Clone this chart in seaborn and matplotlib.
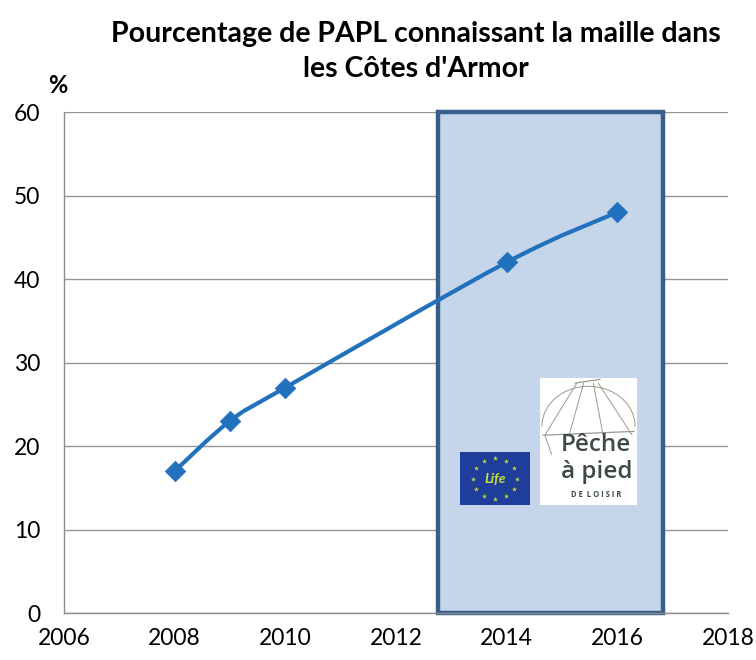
import numpy as np
import matplotlib
matplotlib.use("Agg")
import matplotlib.pyplot as plt
from matplotlib.path import Path
from matplotlib.patches import PathPatch, Rectangle
import seaborn as sns
import pandas as pd

# Survey years and share of recreational shore fishers (PAPL) who know the minimum size
years = [2008, 2009, 2010, 2014, 2016]
pct = [17, 23, 27, 42, 48]

x_ticks = [2006, 2008, 2010, 2012, 2014, 2016, 2018]
y_ticks = [0, 10, 20, 30, 40, 50, 60]

# Period of the LIFE project, highlighted as a shaded band
life_start, life_end = 2012.75, 2016.83

title = "Pourcentage de PAPL connaissant la maille dans\nles Côtes d'Armor"

sns.set_theme(style="white")
plt.rcParams["font.family"] = ["Lato", "DejaVu Sans"]
plt.rcParams["text.color"] = "black"

line_color = "#2271BD"
df = pd.DataFrame({"annee": years, "pct": pct})

fig = plt.figure(figsize=(7.56, 6.6), dpi=100)
ax = fig.add_axes([0.0847, 0.0712, 0.8783, 0.7591])

# Shaded LIFE period
ax.add_patch(Rectangle((life_start, 0), life_end - life_start, 60,
                       facecolor="#C5D5EA", edgecolor="#3A5E8C", linewidth=3.2,
                       zorder=2, clip_on=False))


def smooth_path(xs, ys, tension=1 / 6):
    """Cubic Bezier path through the points (Catmull-Rom style control points)."""
    pts = np.column_stack([xs, ys]).astype(float)
    verts = [tuple(pts[0])]
    codes = [Path.MOVETO]
    n = len(pts)
    for i in range(n - 1):
        p0 = pts[i - 1] if i > 0 else pts[i]
        p1 = pts[i]
        p2 = pts[i + 1]
        p3 = pts[i + 2] if i + 2 < n else pts[i + 1]
        c1 = p1 + (p2 - p0) * tension
        c2 = p2 - (p3 - p1) * tension
        verts += [tuple(c1), tuple(c2), tuple(p2)]
        codes += [Path.CURVE4] * 3
    return Path(verts, codes)


ax.add_patch(PathPatch(smooth_path(years, pct), facecolor="none",
                       edgecolor=line_color, linewidth=3.0, zorder=4,
                       capstyle="round", joinstyle="round"))
sns.scatterplot(data=df, x="annee", y="pct", marker="D", s=110,
                color=line_color, edgecolor=line_color, linewidth=0.5,
                zorder=5, ax=ax, legend=False)

ax.set_xlim(2006, 2018)
ax.set_ylim(0, 60)
ax.set_xticks(x_ticks)
ax.set_yticks(y_ticks)
ax.set_xticklabels([str(t) for t in x_ticks], fontsize=16.5)
ax.set_yticklabels([str(t) for t in y_ticks], fontsize=16.5)
ax.tick_params(axis="x", pad=11, length=0, colors="black")
ax.tick_params(axis="y", pad=17, length=0, colors="black")
ax.set_xlabel("")
ax.set_ylabel("")
ax.yaxis.grid(True, color="#959595", linewidth=1.0, zorder=1)
ax.set_axisbelow(True)
for s in ["top", "right"]:
    ax.spines[s].set_visible(False)
for s in ["left", "bottom"]:
    ax.spines[s].set_color("#8C8C8C")
    ax.spines[s].set_linewidth(1.0)

fig.text(0.55, 0.968, title, ha="center", va="top", fontsize=20.5,
         fontweight="bold", linespacing=1.42, color="black")
fig.text(0.076, 0.870, "%", ha="center", va="center", fontsize=17,
         fontweight="bold", color="black")

# LIFE logo
lax = fig.add_axes([0.6085, 0.2348, 0.0926, 0.0803])
lax.set_xlim(-1, 1)
lax.set_ylim(-1, 1)
lax.add_patch(Rectangle((-1, -1), 2, 2, facecolor="#1F3E9C", edgecolor="none"))
ang = np.linspace(0, 2 * np.pi, 12, endpoint=False)
lax.scatter(0.62 * np.cos(ang), 0.78 * np.sin(ang), marker="*", s=14,
            color="#C6E03A", linewidths=0)
lax.text(0, 0, "Life", ha="center", va="center", fontsize=10,
         style="italic", color="#C6E03A", fontweight="bold")
lax.axis("off")

# Pêche à pied de loisir logo
pax = fig.add_axes([0.7143, 0.2348, 0.1283, 0.1924])
pax.set_xlim(0, 1)
pax.set_ylim(0, 1)
pax.add_patch(Rectangle((0, 0), 1, 1, facecolor="white", edgecolor="none"))
sketch = "#9A9A90"
pax.plot([0.36, 0.62], [0.96, 0.99], color=sketch, lw=0.9)
for x0, x1 in [(0.38, 0.05), (0.45, 0.30), (0.55, 0.65), (0.60, 0.95)]:
    pax.plot([x0, x1], [0.96, 0.55], color=sketch, lw=0.7)
t = np.linspace(0, np.pi, 40)
pax.plot(0.5 + 0.48 * np.cos(t), 0.62 + 0.35 * np.sin(t) * 0.9, color=sketch, lw=0.7)
pax.plot([0.03, 0.97], [0.55, 0.58], color=sketch, lw=0.9)
pax.plot([0.05, 0.12], [0.55, 0.40], color=sketch, lw=0.7)
pax.text(0.58, 0.47, "Pêche", ha="center", va="center", fontsize=17.5,
         color="#3E4A46", fontweight="semibold", family=["Open Sans", "DejaVu Sans"])
pax.text(0.58, 0.26, "à pied", ha="center", va="center", fontsize=17.5,
         color="#3E4A46", fontweight="semibold", family=["Open Sans", "DejaVu Sans"])
pax.text(0.58, 0.08, "D E  L O I S I R", ha="center", va="center", fontsize=5.5,
         color="#3E4A46", fontweight="bold", family=["Open Sans", "DejaVu Sans"])
pax.axis("off")

fig.savefig("out.png", dpi=100)
